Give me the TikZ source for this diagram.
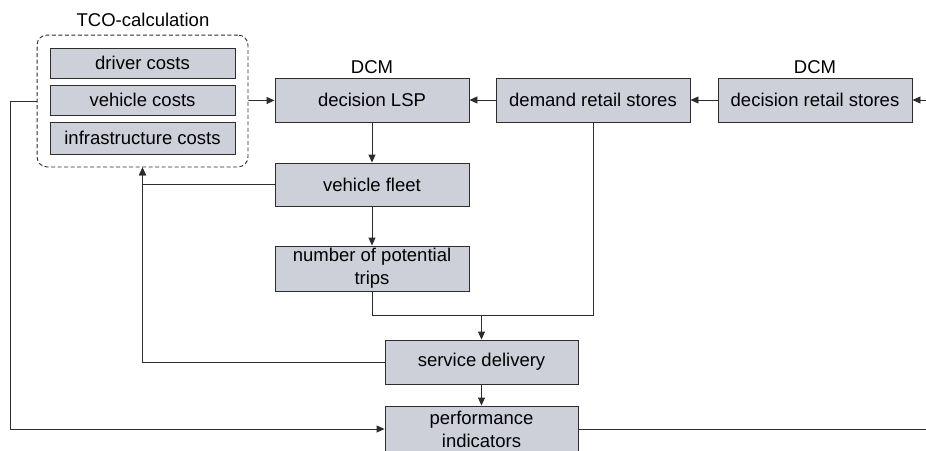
\documentclass[tikz,border=0pt]{standalone}
\usepackage{fontspec}
\setmainfont{Liberation Sans}
\usetikzlibrary{positioning, fit, arrows.meta}
\definecolor{boxfill}{RGB}{205,208,217}
\definecolor{linegray}{RGB}{45,45,45}

\begin{document}
\begin{tikzpicture}[x=1pt, y=-1pt, line width=0.9pt,
  box/.style={draw=linegray, fill=boxfill, inner sep=0pt,
    minimum width=194pt, minimum height=44pt, align=center,
    font=\fontsize{18.5}{23}\selectfont},
  costbox/.style={box, minimum width=185pt, minimum height=30pt},
  lbl/.style={font=\fontsize{18.5}{21}\selectfont, inner sep=2pt},
  conn/.style={draw=linegray},
  arr/.style={conn, -{Triangle[length=8pt,width=7pt]}}]
  \clip (0,0) rectangle (926,450);

  % TCO block
  \node[costbox] (driver) at (142.5,63) {driver costs};
  \node[costbox] (vehicle) at (142.5,100) {vehicle costs};
  \node[costbox, minimum height=32pt] (infra) at (142.5,138) {infrastructure costs};
  \node[draw=linegray, dash pattern=on 4pt off 2.5pt, rounded corners=10pt,
    inner sep=12.5pt, fit=(driver)(infra)] (tco) {};
  \node[lbl] (tcolbl) at (143,20) {TCO-calculation};

  % top row
  \node[box] (lsp) at (372,100) {decision LSP};
  \node[box] (demand) at (593,100) {demand retail stores};
  \node[box] (retail) at (815,100) {decision retail stores};
  \node[lbl, above=1pt of lsp] (dcmA) {DCM};
  \node[lbl, above=1pt of retail] (dcmB) {DCM};

  % middle column
  \node[box, minimum height=43pt] (fleet) at (372,184.5) {vehicle fleet};
  \node[box, minimum height=45pt] (trips) at (372,268.5) {number of potential\\trips};
  \node[box, minimum width=193pt] (service) at (481.5,362) {service delivery};
  \node[box, minimum width=193pt, minimum height=46pt] (perf) at (481.5,429) {performance\\indicators};

  \coordinate (inR) at (926,100);
  \coordinate (outR) at (926,429);
  \coordinate (merge) at (481.5,315);

  \draw[arr] (inR) -- (retail);
  \draw[arr] (retail) -- (demand);
  \draw[arr] (demand) -- (lsp);
  \draw[arr] (tco) -- (lsp);
  \draw[arr] (lsp) -- (fleet);
  \draw[arr] (fleet) -- (trips);
  \draw[arr] (fleet.west) -| (tco.south);
  \draw[arr] (service.west) -| (tco.south);
  \draw[conn] (trips.south) |- (merge);
  \draw[conn] (demand.south) |- (merge);
  \draw[arr] (merge) -- (service);
  \draw[arr] (service) -- (perf);
  \draw[arr] (tco.west) -- ++(-26,0) |- (perf.west);
  \draw[conn] (perf.east) -- (outR);
\end{tikzpicture}
\end{document}
